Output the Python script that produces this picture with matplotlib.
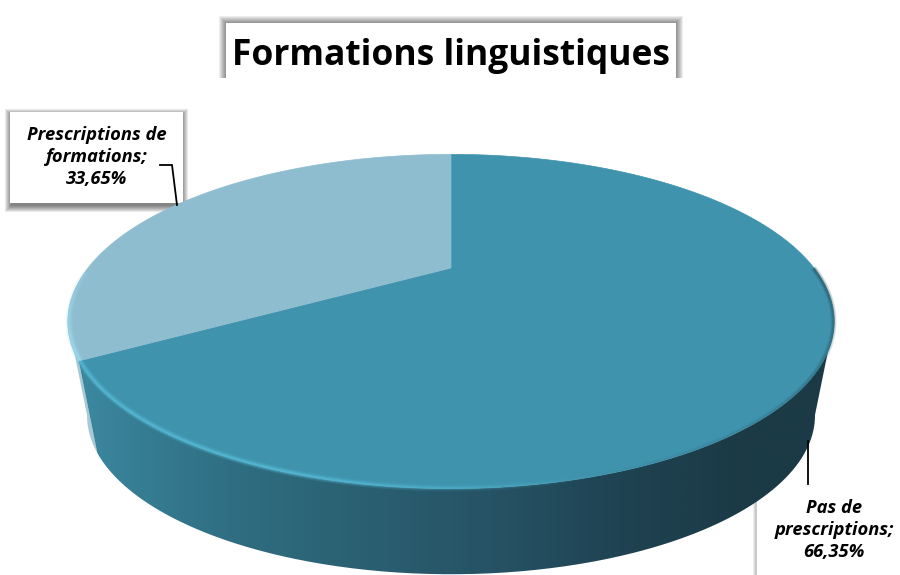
import numpy as np
import matplotlib
matplotlib.use("Agg")
import matplotlib.pyplot as plt
from matplotlib.patches import Polygon, Rectangle, PathPatch
from matplotlib.path import Path
from matplotlib.collections import LineCollection
from matplotlib.colors import LinearSegmentedColormap, to_rgb

title = "Formations linguistiques"
shares = [66.35, 33.65]
label_text = ["Pas de\nprescriptions;\n66,35%", "Prescriptions de\nformations;\n33,65%"]
slice_colors = ["#3f93ad", "#8fbdd0"]

W, H = 900, 575
CX, CY, E, K, D = 451, 268, 363, 0.32, 150
DROP, SHRINK = 94, 0.95

fig = plt.figure(figsize=(W / 100, H / 100), dpi=100)
ax = fig.add_axes([0, 0, 1, 1])


def project(t, scale=1.0, drop=0.0):
    """t: clockwise angle in degrees from twelve o'clock on the tilted disc."""
    r = np.radians(t)
    x, y = np.sin(r), np.cos(r)
    w = 1 + K * y
    # ellipse centre stays fixed when the lower disc is scaled
    mx = E * x / w
    my = -D * y / w + (CY - 321.5)
    return CX + scale * mx, 321.5 + scale * my + drop


def soft_shadow(x0, y0, x1, y1, spread=8, total=0.55, z=1):
    for i in range(spread, 0, -1):
        ax.add_patch(Rectangle((x0 - i, y0 - i), x1 - x0 + 2 * i, y1 - y0 + 2 * i,
                               fc="black", ec="none", alpha=total / spread, zorder=z))


angles = np.linspace(0, 360, 721)
tx, ty = project(angles)
bx, by = project(angles, SHRINK, DROP)
end_dark = 360 * shares[0] / sum(shares)

# ---- title box
soft_shadow(226, 23, 676, 90, spread=7, total=0.5, z=1)
ax.add_patch(Rectangle((226, 23), 450, 55, fc="#a3a3a3", ec="none", zorder=1.5))
ax.add_patch(Rectangle((226, 23), 450, 60, fc="white", ec="none", zorder=1.6))
ax.add_patch(Rectangle((210, 78), 480, 20, fc="white", ec="none", zorder=1.7))

# ---- label boxes
soft_shadow(12, 116, 181, 205, spread=7, total=0.6, z=1)
ax.add_patch(Rectangle((10, 112), 173, 91, fc="white", ec="none", zorder=1.6))
soft_shadow(756, 486, 910, 590, spread=3, total=0.22, z=1)
ax.add_patch(Rectangle((757, 470), 150, 110, fc="white", ec="none", zorder=1.6))

# ---- side wall
i_r = np.argmax(bx)
i_l = np.argmin(bx)
low = np.linspace(project(0)[0] * 0 + angles[i_r], angles[i_l], 300)
lx, ly = project(low, SHRINK, DROP)

j_r = angles[np.argmax(tx)]
j_l = angles[np.argmin(tx)]
# light sliver on the left
t_light = np.linspace(end_dark, j_l, 30)
sx, sy = project(t_light)
bl = np.linspace(angles[i_l], end_dark, 30)
s2x, s2y = project(bl, SHRINK, DROP)
ax.add_patch(Polygon(np.column_stack([np.r_[sx, s2x], np.r_[sy, s2y]]),
                     fc="#a9c9d6", ec="none", zorder=2))

# dark wall outline
top_arc = np.linspace(j_r, end_dark, 300)
ax_x, ax_y = project(top_arc)
bot_arc = np.linspace(end_dark, angles[i_r], 300)
bt_x, bt_y = project(bot_arc, SHRINK, DROP)
wall = Path(np.column_stack([np.r_[ax_x, bt_x], np.r_[ax_y, bt_y]]))
cmap = LinearSegmentedColormap.from_list(
    "wall",
    [(0.0, "#3d8aa2"), (0.09, "#367d93"), (0.22, "#2f6d81"), (0.35, "#2b6274"),
     (0.55, "#265365"), (0.72, "#1f4352"), (0.88, "#1b3a46"), (1.0, "#1b3a46")])
img = ax.imshow(np.linspace(0, 1, 512)[None, :], cmap=cmap, aspect="auto",
                extent=[70, 835, 580, 150], zorder=2.2, interpolation="bilinear")
img.set_clip_path(PathPatch(wall, transform=ax.transData))

# ---- top face slices
start = 0.0
for share, color in zip(shares, slice_colors):
    stop = start + 360 * share / sum(shares)
    t = np.linspace(start, stop, 400)
    x, y = project(t)
    ax.add_patch(Polygon(np.column_stack([np.r_[CX, x], np.r_[CY, y]]),
                         fc=color, ec=color, lw=0.5, zorder=3))
    start = stop


# ---- rim highlights
def rim(t0, t1, rgb, alpha_fn, widths=((5, .25), (3, .45), (1.5, .8)), inset=1.5):
    t = np.linspace(t0, t1, 240)
    x, y = project(t, 1 - inset / 383)
    pts = np.column_stack([x, y])
    segs = np.stack([pts[:-1], pts[1:]], axis=1)
    a = alpha_fn(np.linspace(0, 1, len(segs)))
    base = np.array(to_rgb(rgb))
    for lw, k in widths:
        c = np.column_stack([np.tile(base, (len(segs), 1)), a * k])
        ax.add_collection(LineCollection(segs, colors=c, linewidths=lw, zorder=3.5,
                                         capstyle="butt"))


rim(end_dark - 75, end_dark, "#55b8d4", lambda u: np.clip(u * 2.2, 0, 1) * 0.95)
rim(end_dark, end_dark + 30, "#9fdcf0", lambda u: 1 - u * 0.75)
rim(90, 165, "#1f4250", lambda u: (1 - u) * 0.6, widths=((4, .4), (2, .6)), inset=0.5)

# ---- leader lines
ax.plot([160, 172, 177], [165, 165, 205], color="black", lw=1.3, zorder=4,
        solid_joinstyle="miter")
ax.plot([808, 808], [441, 484], color="black", lw=1.3, zorder=4)

# ---- text
fam = ["Open Sans", "DejaVu Sans"]
ax.text(451, 56, title, ha="center", va="center", fontsize=25.5, fontweight="bold",
        family=fam, color="black", zorder=5)
ax.text(97, 157, label_text[1], ha="center", va="center", fontsize=13.2, fontweight="bold",
        style="italic", family=fam, color="black", linespacing=1.32, zorder=5)
ax.text(834, 530, label_text[0], ha="center", va="center", fontsize=13.2, fontweight="bold",
        style="italic", family=fam, color="black", linespacing=1.32, zorder=5)

ax.set_xlim(0, W)
ax.set_ylim(H, 0)
ax.axis("off")
fig.savefig("out.png", dpi=100, facecolor="white")
